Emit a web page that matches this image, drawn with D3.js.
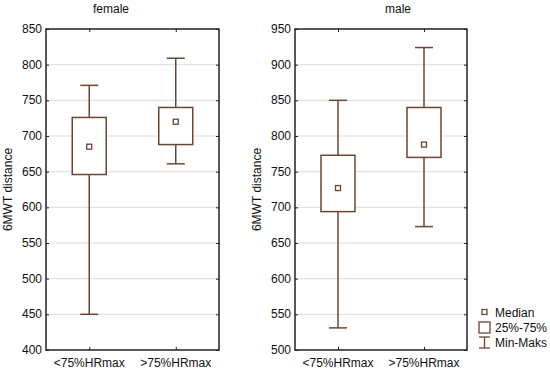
<!DOCTYPE html>
<html>
<head>
<meta charset="utf-8">
<script src="https://cdn.jsdelivr.net/npm/d3@7"></script>
<style>
  body { margin: 0; background: #fff; }
  text { font-family: Arial, "Liberation Sans", sans-serif; fill: #111; }
</style>
</head>
<body>
<div id="viz"></div>
<script>
// data
var groups = ['<75%HRmax', '>75%HRmax'];
var panelTitles = ['female', 'male'];
var yDomains = [[400, 850], [500, 950]];
var femaleMin = [450, 661], femaleQ1 = [646, 688], femaleMed = [685, 720], femaleQ3 = [726, 740], femaleMax = [771, 809];
var maleMin = [531, 673], maleQ1 = [694, 770], maleMed = [727, 788], maleQ3 = [773, 840], maleMax = [850, 924];
var legendLabels = ['Median', '25%-75%', 'Min-Maks'];

var brown = '#6b4636';

var svg = d3.select('#viz').append('svg')
  .attr('width', 550)
  .attr('height', 371);

var panels = [
  { title: panelTitles[0], domain: yDomains[0], left: 46, right: 219, titleX: 111, labelX: 12,
    min: femaleMin, q1: femaleQ1, med: femaleMed, q3: femaleQ3, max: femaleMax },
  { title: panelTitles[1], domain: yDomains[1], left: 295, right: 467, titleX: 398, labelX: 261,
    min: maleMin, q1: maleQ1, med: maleMed, q3: maleQ3, max: maleMax }
];

var plotTop = 29, plotBottom = 350;

panels.forEach(function(p) {
  var x = d3.scalePoint().domain(groups).range([p.left, p.right]).padding(0.5);
  var y = d3.scaleLinear().domain(p.domain).range([plotBottom, plotTop]);
  var yTicks = d3.range(p.domain[0], p.domain[1] + 1, 50);
  var g = svg.append('g');

  // grid lines
  g.selectAll('.grid').data(yTicks.slice(1, -1)).enter().append('line')
    .attr('x1', p.left).attr('x2', p.right)
    .attr('y1', function(d) { return y(d); }).attr('y2', function(d) { return y(d); })
    .attr('stroke', '#dcdcdc').attr('stroke-width', 1);

  // y axes (left labels, ticks inside on both sides)
  g.append('g').attr('transform', 'translate(' + p.left + ',0)')
    .call(d3.axisRight(y).tickValues(yTicks).tickSize(3).tickFormat(''))
    .call(function(a) { a.select('.domain').remove(); a.selectAll('line').attr('stroke', '#222'); });
  g.append('g').attr('transform', 'translate(' + p.right + ',0)')
    .call(d3.axisLeft(y).tickValues(yTicks).tickSize(3).tickFormat(''))
    .call(function(a) { a.select('.domain').remove(); a.selectAll('line').attr('stroke', '#222'); });
  g.selectAll('.ylab').data(yTicks).enter().append('text')
    .attr('x', p.left - 4).attr('y', function(d) { return y(d) + 4; })
    .attr('text-anchor', 'end').attr('font-size', 12)
    .text(function(d) { return d; });

  // x axes (ticks inside top and bottom)
  g.append('g').attr('transform', 'translate(0,' + plotBottom + ')')
    .call(d3.axisTop(x).tickSize(3).tickFormat(''))
    .call(function(a) { a.select('.domain').remove(); a.selectAll('line').attr('stroke', '#222'); });
  g.append('g').attr('transform', 'translate(0,' + plotTop + ')')
    .call(d3.axisBottom(x).tickSize(3).tickFormat(''))
    .call(function(a) { a.select('.domain').remove(); a.selectAll('line').attr('stroke', '#222'); });
  g.selectAll('.xlab').data(groups).enter().append('text')
    .attr('x', function(d) { return x(d); }).attr('y', 367)
    .attr('text-anchor', 'middle').attr('font-size', 12)
    .text(function(d) { return d; });

  // boxes
  groups.forEach(function(c, i) {
    var cx = x(c);
    g.append('line').attr('x1', cx).attr('x2', cx).attr('y1', y(p.max[i])).attr('y2', y(p.q3[i]))
      .attr('stroke', brown).attr('stroke-width', 1.5);
    g.append('line').attr('x1', cx).attr('x2', cx).attr('y1', y(p.q1[i])).attr('y2', y(p.min[i]))
      .attr('stroke', brown).attr('stroke-width', 1.5);
    [p.max[i], p.min[i]].forEach(function(v) {
      g.append('line').attr('x1', cx - 9).attr('x2', cx + 9).attr('y1', y(v)).attr('y2', y(v))
        .attr('stroke', brown).attr('stroke-width', 1.5);
    });
    g.append('rect').attr('x', cx - 17).attr('width', 34)
      .attr('y', y(p.q3[i])).attr('height', y(p.q1[i]) - y(p.q3[i]))
      .attr('fill', '#fff').attr('stroke', brown).attr('stroke-width', 1.5);
    g.append('rect').attr('x', cx - 2.5).attr('y', y(p.med[i]) - 2.5).attr('width', 5).attr('height', 5)
      .attr('fill', '#fff').attr('stroke', brown).attr('stroke-width', 1.3);
  });

  // frame
  g.append('rect').attr('x', p.left).attr('y', plotTop)
    .attr('width', p.right - p.left).attr('height', plotBottom - plotTop)
    .attr('fill', 'none').attr('stroke', '#222').attr('stroke-width', 1.5);

  // titles
  g.append('text').attr('x', p.titleX).attr('y', 13)
    .attr('text-anchor', 'middle').attr('font-size', 12).text(p.title);
  g.append('text')
    .attr('transform', 'translate(' + p.labelX + ',' + ((plotTop + plotBottom) / 2) + ') rotate(-90)')
    .attr('text-anchor', 'middle').attr('font-size', 12).text('6MWT distance');
});

// legend
var legend = svg.append('g').attr('transform', 'translate(479,0)');
legend.append('rect').attr('x', 3).attr('y', 309.5).attr('width', 5).attr('height', 5)
  .attr('fill', '#fff').attr('stroke', brown).attr('stroke-width', 1.3);
legend.append('rect').attr('x', 0).attr('y', 322).attr('width', 11).attr('height', 11)
  .attr('fill', '#fff').attr('stroke', brown).attr('stroke-width', 1.3);
legend.append('line').attr('x1', 5.5).attr('x2', 5.5).attr('y1', 337).attr('y2', 348)
  .attr('stroke', brown).attr('stroke-width', 1.3);
legend.append('line').attr('x1', 0).attr('x2', 11).attr('y1', 337).attr('y2', 337)
  .attr('stroke', brown).attr('stroke-width', 1.3);
legend.append('line').attr('x1', 0).attr('x2', 11).attr('y1', 348).attr('y2', 348)
  .attr('stroke', brown).attr('stroke-width', 1.3);
legend.selectAll('.lt').data(legendLabels).enter().append('text')
  .attr('x', 16).attr('y', function(d, i) { return 317 + i * 15; })
  .attr('font-size', 12).text(function(d) { return d; });
</script>
</body>
</html>
